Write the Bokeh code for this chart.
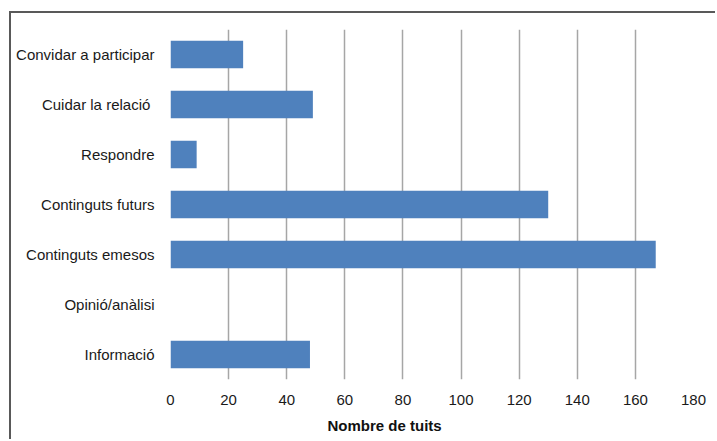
from bokeh.plotting import figure
from bokeh.models import ColumnDataSource, FactorRange, Range1d, FixedTicker, Title
from bokeh.embed import file_html
from bokeh.resources import INLINE

# Tweet categories (top to bottom) and their counts
categories = [
    "Convidar a participar",
    "Cuidar la relació ",
    "Respondre",
    "Continguts futurs",
    "Continguts emesos",
    "Opinió/anàlisi",
    "Informació",
]
counts = [25, 49, 9, 130, 167, 0, 48]
x_ticks = [0, 20, 40, 60, 80, 100, 120, 140, 160, 180]
x_title = "Nombre de tuits"

FONT = "Liberation Sans"
BAR_COLOR = "#4F81BD"
FRAME = "2px solid #595959"

source = ColumnDataSource(data=dict(cat=categories, n=counts))

p = figure(
    width=706, height=428,
    y_range=FactorRange(*reversed(categories), range_padding=0),
    x_range=Range1d(0, 180),
    output_backend="svg", toolbar_location=None,
    min_border_left=159, min_border_right=24,
    min_border_top=16, min_border_bottom=62,
)
p.outline_line_color = None
p.background_fill_color = "white"
p.border_fill_color = "white"
# chart box: left and top rules, placed 9px / 11px into the page
p.styles = {"border-left": FRAME, "border-top": FRAME,
            "margin-left": "9px", "margin-top": "11px"}

p.hbar(y="cat", right="n", left=0, height=0.55, source=source,
       fill_color=BAR_COLOR, line_color=None)

# vertical gridlines only
p.ygrid.grid_line_color = None
p.xgrid.grid_line_color = "#A6A6A6"
p.xgrid.grid_line_width = 1.5
p.xgrid.level = "underlay"

p.xaxis.ticker = FixedTicker(ticks=x_ticks)
for ax in (p.xaxis[0], p.yaxis[0]):
    ax.axis_line_color = None
    ax.major_tick_line_color = None
    ax.minor_tick_line_color = None
    ax.major_label_text_font = FONT
    ax.major_label_text_color = "#1a1a1a"
p.xaxis.major_label_text_font_size = "15px"
p.yaxis.major_label_text_font_size = "15px"
p.xaxis.major_label_standoff = 9
p.yaxis.major_label_standoff = 10

# axis title under the tick labels
p.add_layout(Title(text=x_title, text_font=FONT, text_font_size="15px",
                   text_font_style="bold", text_color="#111111",
                   text_line_height=0.9,
                   align="left", offset=157, standoff=15), "below")

open("out.html", "w").write(file_html(p, INLINE))
